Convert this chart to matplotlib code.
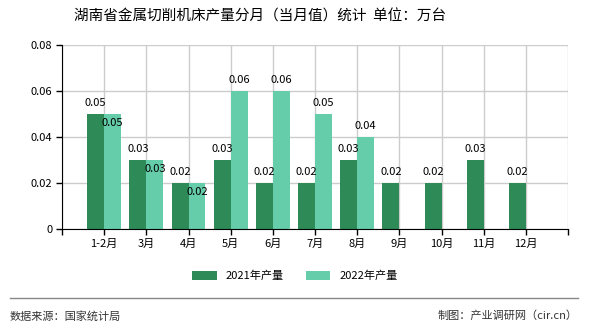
import matplotlib
matplotlib.use('Agg')
import matplotlib.pyplot as plt
import numpy as np

plt.rcParams['font.family'] = ['Noto Sans CJK SC', 'DejaVu Sans']

months = ['1-2月', '3月', '4月', '5月', '6月', '7月', '8月', '9月', '10月', '11月', '12月']
y2021 = [0.05, 0.03, 0.02, 0.03, 0.02, 0.02, 0.03, 0.02, 0.02, 0.03, 0.02]
y2022 = [0.05, 0.03, 0.02, 0.06, 0.06, 0.05, 0.04]
yticks = [0, 0.02, 0.04, 0.06, 0.08]
ytickLabels = ['0', '0.02', '0.04', '0.06', '0.08']

darkColor = '#2E8B57'
lightColor = '#66CDAA'

def main():
    fig = plt.figure(figsize=(5.9, 3.3), dpi=100)
    ax = fig.add_axes([62 / 590, 1 - 229 / 330, 506 / 590, 184 / 330])

    x = np.arange(len(months))
    width = 0.4
    ax.bar(x - width / 2, y2021, width, color=darkColor, label='2021年产量', zorder=2)
    x2 = np.arange(len(y2022))
    ax.bar(x2 + width / 2, y2022, width, color=lightColor, label='2022年产量', zorder=2)

    for i, v in enumerate(y2021):
        ax.annotate('%.2f' % v, (x[i] - width / 2, v), xytext=(0, 4),
                    textcoords='offset points', ha='center', va='bottom', fontsize=8)
    for i, v in enumerate(y2022):
        if v == y2021[i]:
            ax.annotate('%.2f' % v, (x2[i] + width / 2, v), xytext=(0, -3),
                        textcoords='offset points', ha='center', va='top', fontsize=8)
        else:
            ax.annotate('%.2f' % v, (x2[i] + width / 2, v), xytext=(0, 4),
                        textcoords='offset points', ha='center', va='bottom', fontsize=8)

    ax.set_xlim(-1, len(months))
    ax.set_ylim(0, 0.08)
    ax.set_xticks(list(np.arange(-1, len(months) + 1)))
    ax.set_xticklabels([''] + months + [''], fontsize=8)
    ax.set_yticks(yticks)
    ax.set_yticklabels(ytickLabels, fontsize=8)
    ax.grid(True, color='#cccccc', linewidth=1, zorder=0)
    ax.set_axisbelow(True)
    ax.spines['top'].set_visible(False)
    ax.spines['right'].set_visible(False)
    ax.spines['left'].set_color('black')
    ax.spines['bottom'].set_color('black')
    ax.tick_params(axis='both', length=4, width=1, pad=3)

    fig.text(0.44, 1 - 17 / 330, '湖南省金属切削机床产量分月（当月值）统计  单位：万台',
             ha='center', va='center', fontsize=10.5)

    fig.legend(loc='center', bbox_to_anchor=(0.5, 1 - 276 / 330), ncol=2, frameon=False,
               fontsize=8, handlelength=2.2, handleheight=0.9, columnspacing=2.0)

    fig.add_artist(plt.Line2D([10 / 590, 578 / 590], [1 - 298 / 330, 1 - 298 / 330],
                              color='#888888', linewidth=1))
    fig.text(10 / 590, 1 - 316 / 330, '数据来源：国家统计局', ha='left', va='center',
             fontsize=8, color='#333333')
    fig.text(578 / 590, 1 - 316 / 330, '制图：产业调研网（cir.cn）', ha='right', va='center',
             fontsize=8, color='#333333')

    fig.savefig('out.png', dpi=100)

if __name__ == '__main__':
    main()
